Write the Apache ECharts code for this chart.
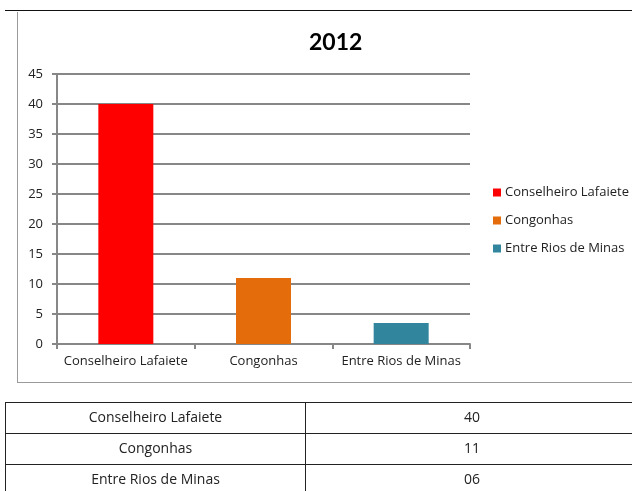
<!DOCTYPE html>
<html>
<head>
<meta charset="utf-8">
<script src="https://cdn.jsdelivr.net/npm/echarts@6/dist/echarts.min.js"></script>
<style>
  html, body { margin: 0; padding: 0; background: #fff; }
  #wrap { position: relative; width: 632px; height: 491px; overflow: hidden; font-family: "Open Sans", "Lato", sans-serif; }
  #topline { position: absolute; left: 5px; top: 10px; width: 627px; height: 0; border-top: 1px solid #111; }
  #box { position: absolute; left: 17px; top: 12px; width: 620px; height: 370px; border-left: 1px solid #9a9a9a; border-bottom: 1px solid #9a9a9a; }
  #chart { position: absolute; left: 0; top: 0; width: 632px; height: 491px; }
  #tbl { position: absolute; left: 5px; top: 402px; width: 634px; border-collapse: collapse; font-size: 14px; color: #222; }
  #tbl td { border: 1px solid #222; height: 31px; padding: 0 0 3px 0; box-sizing: border-box; text-align: center; }
  #tbl td:first-child { width: 300px; }
</style>
</head>
<body>
<div id="wrap">
  <div id="topline"></div>
  <div id="box"></div>
  <div id="chart"></div>
  <table id="tbl"></table>
</div>
<script>
// Municipalities and their 2012 counts
const categories = ['Conselheiro Lafaiete', 'Congonhas', 'Entre Rios de Minas'];
const values = [40, 11, 3.5];
const colors = ['#FF0000', '#E46C0A', '#31859C'];
// Values as written in the summary table
const tableValues = ['40', '11', '06'];
// Value axis ticks
const yMin = 0, yMax = 45, yStep = 5;

const chart = echarts.init(document.getElementById('chart'));
const font = '"Open Sans", "Lato", sans-serif';

const series = categories.map((name, i) => ({
  name: name,
  type: 'bar',
  stack: 'total',
  barWidth: 55,
  itemStyle: { color: colors[i] },
  data: categories.map((c, j) => (j === i ? values[i] : '-'))
}));

chart.setOption({
  animation: false,
  textStyle: { fontFamily: font },
  title: {
    text: '2012',
    left: 304,
    top: 26,
    textStyle: { fontSize: 23, fontWeight: 'bold', color: '#000', fontFamily: 'Lato' }
  },
  legend: {
    orient: 'vertical',
    left: 488,
    top: 181,
    itemWidth: 8,
    itemHeight: 8,
    itemGap: 15,
    icon: 'rect',
    textStyle: { fontSize: 13, color: '#222', padding: [0, 0, 0, -1] },
    data: categories
  },
  grid: { left: 57, right: 162, top: 74, bottom: 147, containLabel: false },
  xAxis: {
    type: 'category',
    data: categories,
    axisLine: { lineStyle: { color: '#878787', width: 2 } },
    axisTick: { show: true, length: 5, lineStyle: { color: '#878787', width: 2 } },
    axisLabel: { fontSize: 13, color: '#222', margin: 11, interval: 0 }
  },
  yAxis: {
    type: 'value',
    min: yMin,
    max: yMax,
    interval: yStep,
    axisLine: { show: true, lineStyle: { color: '#878787', width: 2 } },
    axisTick: { show: true, length: 5, lineStyle: { color: '#878787', width: 2 } },
    axisLabel: { fontSize: 13, color: '#222', margin: 14 },
    splitLine: { lineStyle: { color: '#878787', width: 2 } }
  },
  series: series
});

// Summary table under the chart
const tbl = document.getElementById('tbl');
categories.forEach((c, i) => {
  const tr = document.createElement('tr');
  const a = document.createElement('td');
  a.textContent = c;
  const b = document.createElement('td');
  b.textContent = tableValues[i];
  tr.appendChild(a);
  tr.appendChild(b);
  tbl.appendChild(tr);
});
</script>
</body>
</html>
